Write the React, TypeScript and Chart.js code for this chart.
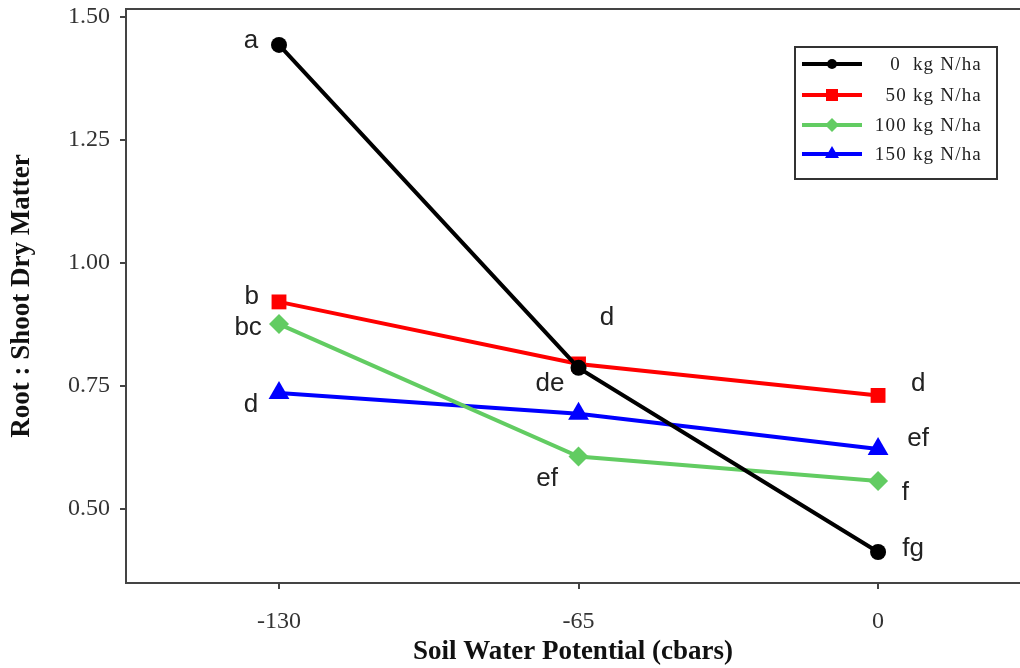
import React, { useEffect, useRef } from "react";
import { Chart, registerables } from "chart.js";

Chart.register(...registerables);

const xValues = [-130, -65, 0];
const seriesNames = ["0  kg N/ha", "50 kg N/ha", "100 kg N/ha", "150 kg N/ha"];
const n0 = [1.443, 0.787, 0.413];
const n50 = [0.921, 0.795, 0.731];
const n100 = [0.876, 0.607, 0.557];
const n150 = [0.736, 0.694, 0.622];
const seriesColors = ["#000000", "#ff0000", "#62cc62", "#0000ff"];
const seriesMarkers = ["circle", "rect", "rectRot", "triangle"];
const markerRadius = [8, 10.5, 10, 12];
const xTicks = [-130, -65, 0];
const yTicks = [0.5, 0.75, 1.0, 1.25, 1.5];
const letterText = ["a", "b", "bc", "d", "d", "de", "ef", "d", "ef", "f", "fg"];
const letterX = [-136.1, -135.9, -136.7, -136.1, -58.8, -71.2, -71.8, 8.7, 8.7, 5.9, 7.6];
const letterY = [1.451, 0.931, 0.868, 0.711, 0.888, 0.754, 0.561, 0.754, 0.642, 0.534, 0.42];

const seriesValues = [n0, n50, n100, n150];

const extrasPlugin = {
  id: "extras",
  afterDatasetsDraw(chart: any) {
    const ctx = chart.ctx;
    const xs = chart.scales.x;
    const ys = chart.scales.y;
    const area = chart.chartArea;
    ctx.save();
    ctx.strokeStyle = "#444444";
    ctx.lineWidth = 2;
    ctx.beginPath();
    ctx.moveTo(area.left, area.top);
    ctx.lineTo(area.right, area.top);
    ctx.stroke();
    ctx.fillStyle = "#222222";
    ctx.font = "26px 'Liberation Sans', Arial, sans-serif";
    ctx.textAlign = "center";
    ctx.textBaseline = "middle";
    letterText.forEach((t, i) => {
      ctx.fillText(t, xs.getPixelForValue(letterX[i]), ys.getPixelForValue(letterY[i]));
    });
    const bx = 795, by = 47, bw = 202, bh = 132;
    ctx.fillStyle = "#ffffff";
    ctx.fillRect(bx, by, bw, bh);
    ctx.strokeStyle = "#333333";
    ctx.lineWidth = 2;
    ctx.strokeRect(bx, by, bw, bh);
    const rows = [64, 95, 125, 154];
    seriesNames.forEach((name, i) => {
      const yy = rows[i];
      ctx.strokeStyle = seriesColors[i];
      ctx.lineWidth = 4;
      ctx.beginPath();
      ctx.moveTo(802, yy);
      ctx.lineTo(862, yy);
      ctx.stroke();
      ctx.fillStyle = seriesColors[i];
      const cx = 832;
      ctx.beginPath();
      if (i === 0) {
        ctx.arc(cx, yy, 5, 0, Math.PI * 2);
      } else if (i === 1) {
        ctx.rect(cx - 6, yy - 6, 12, 12);
      } else if (i === 2) {
        ctx.moveTo(cx, yy - 7);
        ctx.lineTo(cx + 7, yy);
        ctx.lineTo(cx, yy + 7);
        ctx.lineTo(cx - 7, yy);
        ctx.closePath();
      } else {
        ctx.moveTo(cx, yy - 8);
        ctx.lineTo(cx + 7, yy + 4);
        ctx.lineTo(cx - 7, yy + 4);
        ctx.closePath();
      }
      ctx.fill();
      ctx.fillStyle = "#222222";
      ctx.font = "19px 'Liberation Serif', 'Times New Roman', serif";
      (ctx as any).letterSpacing = "1.2px";
      ctx.textAlign = "right";
      ctx.textBaseline = "middle";
      ctx.fillText(name, 982, yy + 1);
      (ctx as any).letterSpacing = "0px";
    });
    ctx.restore();
  },
};

export default function App() {
  const ref = useRef<HTMLCanvasElement>(null);
  useEffect(() => {
    if (!ref.current) return;
    const chart = new Chart(ref.current, {
      type: "line",
      data: {
        datasets: seriesValues.map((vals, i) => ({
          label: seriesNames[i],
          data: vals.map((v, j) => ({ x: xValues[j], y: v })),
          borderColor: seriesColors[i],
          backgroundColor: seriesColors[i],
          borderWidth: 4,
          pointStyle: seriesMarkers[i] as any,
          pointRadius: markerRadius[i],
          pointBorderWidth: 0,
          fill: false,
          tension: 0,
        })),
      },
      options: {
        animation: false,
        responsive: false,
        layout: { autoPadding: false, padding: { top: 9, right: 0, left: 0, bottom: 0 } },
        plugins: { legend: { display: false }, tooltip: { enabled: false } },
        scales: {
          x: {
            type: "linear",
            min: -163.2,
            max: 30.8,
            afterBuildTicks: (s: any) => {
              s.ticks = xTicks.map((v) => ({ value: v }));
            },
            afterFit: (s: any) => {
              s.height = 85;
              s.paddingLeft = 0;
              s.paddingRight = 0;
            },
            grid: { drawOnChartArea: false, drawTicks: true, tickLength: 6, color: "#444444", lineWidth: 2 },
            border: { display: true, color: "#444444", width: 2 },
            ticks: {
              color: "#333333",
              font: { family: "'Liberation Serif', 'Times New Roman', serif", size: 24 },
              padding: 18,
              maxRotation: 0,
              callback: (v: any) => String(v),
            },
            title: {
              display: true,
              text: "Soil Water Potential (cbars)",
              color: "#111111",
              font: { family: "'Liberation Serif', 'Times New Roman', serif", size: 27, weight: "bold" },
              padding: { top: 0, bottom: 0 },
            },
          },
          y: {
            type: "linear",
            min: 0.35,
            max: 1.516,
            afterBuildTicks: (s: any) => {
              s.ticks = yTicks.map((v) => ({ value: v }));
            },
            afterFit: (s: any) => {
              s.width = 126;
              s.paddingTop = 0;
              s.paddingBottom = 0;
            },
            grid: { drawOnChartArea: false, drawTicks: true, tickLength: 6, color: "#444444", lineWidth: 2 },
            border: { display: true, color: "#444444", width: 2 },
            ticks: {
              color: "#333333",
              font: { family: "'Liberation Serif', 'Times New Roman', serif", size: 24 },
              padding: 10,
              callback: (v: any) => Number(v).toFixed(2),
            },
            title: {
              display: true,
              text: "Root : Shoot Dry Matter",
              color: "#111111",
              font: { family: "'Liberation Serif', 'Times New Roman', serif", size: 27, weight: "bold" },
              padding: { top: 6, bottom: 0 },
            },
          },
        },
      },
      plugins: [extrasPlugin],
    });
    return () => chart.destroy();
  }, []);
  return (
    <div style={{ position: "absolute", left: 0, top: 0, width: 1020, height: 668, background: "#ffffff" }}>
      <canvas ref={ref} width={1020} height={668} style={{ display: "block" }} />
    </div>
  );
}
